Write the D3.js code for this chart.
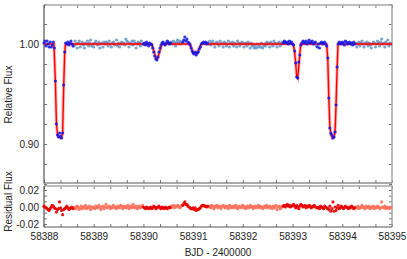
<!DOCTYPE html>
<html>
<head>
<meta charset="utf-8">
<script src="https://cdn.jsdelivr.net/npm/d3@7"></script>
<style>
  body { margin: 0; background: #fff; }
  svg { display: block; font-family: "Liberation Sans", Arial, Helvetica, sans-serif; }
</style>
</head>
<body>
<script>
'use strict';

// 30-minute cadence, first sample at BJD 2458388.0
const startBJD = 58388.0;
const samplesPerDay = 48;

// relative flux as (f - 1) in parts per thousand, one array per day
const fluxDay0 = [1, 3, -2, 3, 0, -3, 2, -3, -1, 2,
  -4, -37, -80, -91, -93, -89, -92, -94, -89, -41, -8, 1,
  0, 2, -1, 1, 3, 0, -2,
  -2, 3, 0, -4, 1, 3, -3, 0, 2, -1, -4, 1, 0, 3, -2, 1, 4, -2, 0];
const fluxDay1 = [-3, 1, 3, 0, -1, 2, -4, 0, 1, -3, 2, 0,
  2, 1, -2, 3, 0, -3, 1, 2, -1, 0, 4, -2,
  1, -3, 0, 2, 1, 1, -1, 5, 3, 2, -3, 1,
  0, 3, -1, 3, 1, -4, 0, 2, 1, -2, 3, 0];
const fluxDay2 = [0, 1, -1, 2, 0, -2, 1, 0,
  -1, -4, -8, -12, -15, -16, -13, -8, -4, -1,
  1, 2, 0, -1, 1, 3, 2, 0, 1,
  2, 0, 3, 1, -2, 2, 4, 1, 3, 0, 2,
  2, 4, 7, 3, 5, 2, 1, -1, -4, -7];
const fluxDay3 = [-9, -10, -8, -11, -9, -8, -5, -3, 0, 1, 2, 1, 2, 0, 1,
  0, 3, -1, 1, 3, 0, -3, 1, 2, 0, -2, 3, 1, 0, -3, 2, 1, -2, 0, 3,
  -3, 1, 0, 2, -2, 1, 0, -3, 3, 1, -2, 0, 2];
const fluxDay4 = [1, -3, 0, 1, -2, 2, 0, -4, 1, -2, -1, -4,
  -2, -4, 0, -3, -1, -3, 1, -4, -2, 0, -2, 2,
  0, 1, -3, 2, 0, -2, 3, 1, 0, -3, 1, 2, -2, 0, 2,
  1, 3, 2, 1, 2, 0, 3, 1, 2];
const fluxDay5 = [0, -1, -7, -19, -33, -34, -18, -11, -1, 1,
  3, 2, 1, 3, 0, 2, 4, 1, 2, 3, 0, 1, 2, -2,
  -3, 0, -4, 1, 2, 0, 1, 2, 0,
  -2, -14, -54, -84, -89, -91, -94, -93, -88, -61, -23, 0, 2,
  1, 0];
const fluxDay6 = [2, 1, -1, 3, 2, 0, 1, 2, 0, 1, -1, 2, 0,
  1, -3, 0, 2, -2, 1, 3, 0, -3, 1, 0, 2, -2, 1, -1, -4, 0, 2, 1, -3,
  0, 3, 1, -2, 2, 5, 0, 1, -3, 2, 0, 4, -2, 1, 0];

// residual flux in parts per thousand, one array per day
const residDay0 = [1, 0, -1, -2, -3, -4, -2, 0, 2, 1, -1, -2, -6, -3, -2,
  6, -1, -4, -9, -3, -2, -1, 1, -1, -3, -2, -1, 0, -2,
  -1, 0, -2, 1, 0, -3, -1, 1, -2, 0, -1, 2, -2, 0, -1, 1, -3, 0, -1];
const residDay1 = [0, -2, 1, -1, 0, 2, -1, -3, 0, 1, -2, 0, 3, -1, 0, 1,
  -2, 0, -1, 2, 0, -1, -2, 1, 0, -1, 2, 1, -2, 0, 1, -1, 0, 2, -2, 0,
  1, -1, 3, 0, -1, 1, -2, 0, 1, -1, 0, 2];
const residDay2 = [0, -1, -2, 0, -1, -2, -1, 0, -2, -1, 1, 0, -2, -1,
  0, 1, -1, -2, 0, -1, -2, 0, -1, -2, -1, 0, -1,
  1, 0, 2, -1, 1, 0, 2, 1, -1, 0, 2,
  2, 4, 6, 3, 3, 1, 0, -1, -2, -2];
const residDay3 = [-1, -3, -1, -4, -3, -3, -2, -1, 1, 2, 2, 1, 1, 0, 1,
  0, 1, -1, 2, 0, -2, 1, 0, 2, -1, 1, 0, -2, 1, 2, 0, -1, 1, 0, -2,
  2, 1, -1, 0, 1, -1, 2, 0, -2, 1, 0, -1, 1];
const residDay4 = [2, -1, 0, -2, 1, 0, -1, 2, 0, 1, -2, 0, 1, -1, 0, 2,
  -1, 1, 0, -2, 0, 1, -1, 2, 0, -1, 1, 0, -2, 1, -1, 0, 2, -3, 0, 1,
  -2, -1, 1,
  1, 2, 0, 2, 3, 1, 2, 0, 1];
const residDay5 = [2, 3, 1, -1, 2, 0, -2, 1, 3, 2, 0, 1, 2, -1, 1, 0,
  2, 1, -1, 0, 1, 2, 0,
  -1,
  -1, 0, -2, 1, 0, -1, -2, 1, 0, -1, -2, -3, 1, -5, -2, 6, -5, 0, -4,
  -1, 2, -2, -1, 1];
const residDay6 = [0, -2, -1, 1, 0, -1, -2, 0, -1, 1, 0, -2, -1,
  0, -1, 1, -2, 0, -1, 2, 0, -1, -2, 1, 0, -1, 1, -2, -1, 0, 1, -2, 0,
  -1, 1, 0, -2, -1, 6, 0, -1, 1, -2, 0, -1, -2, 0, -1];

// time windows fitted around each eclipse (deep blue / red points)
const fitWindows = [
  [58387.99, 58388.59],
  [58389.99, 58390.55],
  [58390.78, 58391.30],
  [58392.80, 58393.46],
  [58393.49, 58394.26]
];

// eclipse model, vertices of the red curve
const modelTimes = [58388.0,
  58388.200, 58388.229, 58388.250, 58388.271, 58388.300, 58388.330,
  58388.354, 58388.375, 58388.396, 58388.417, 58388.432,
  58390.17, 58390.21, 58390.25, 58390.27, 58390.29, 58390.33, 58390.37,
  58390.94, 58391.00, 58391.08, 58391.16,
  58393.01, 58393.04, 58393.062, 58393.083, 58393.104, 58393.125, 58393.146, 58393.165,
  58393.685, 58393.708, 58393.729, 58393.750, 58393.771, 58393.800,
  58393.830, 58393.854, 58393.875, 58393.896, 58393.915,
  58395.0];
const modelFlux = [1.000,
  1.000, 0.962, 0.921, 0.910, 0.907, 0.906,
  0.907, 0.911, 0.958, 0.991, 1.000,
  1.000, 0.993, 0.986, 0.985, 0.986, 0.993, 1.000,
  1.000, 0.991, 0.991, 1.000,
  1.000, 0.993, 0.981, 0.968, 0.966, 0.978, 0.990, 1.000,
  1.000, 0.985, 0.947, 0.917, 0.910, 0.906,
  0.907, 0.912, 0.940, 0.976, 1.000,
  1.000];

// axis labels
const xTickValues = [58388, 58389, 58390, 58391, 58392, 58393, 58394, 58395];
const fluxTickValues = [0.90, 1.00];
const residTickValues = [-0.02, 0.00, 0.02];

(function() {

  const width = 407, height = 259;
  const left = 44, right = 392;
  const topPanel = { y0: 5, y1: 183 };
  const resPanel = { y0: 186, y1: 227 };
  const fontSize = '10px';

  const colors = {
    oot: '#6096c8',
    inFit: '#1414e6',
    model: '#ff0000',
    resOut: '#ff6f5a',
    resIn: '#e60000',
    frameDark: '#555',
    frameLight: '#a8a8a8',
    text: '#222'
  };

  window.onload = function() {
    let svg = d3.select('body')
      .append('svg')
      .attr('width', width)
      .attr('height', height);

    // assemble the data rows
    let fluxAll = [].concat(fluxDay0, fluxDay1, fluxDay2, fluxDay3, fluxDay4, fluxDay5, fluxDay6);
    let residAll = [].concat(residDay0, residDay1, residDay2, residDay3, residDay4, residDay5, residDay6);
    let inFit = (t) => fitWindows.some((w) => t >= w[0] && t <= w[1]);
    let data = fluxAll.map((f, i) => {
      let t = startBJD + i / samplesPerDay;
      return { t: t, flux: 1 + f / 1000, resid: residAll[i] / 1000, fit: inFit(t) };
    });
    let model = modelTimes.map((t, i) => ({ t: t, flux: modelFlux[i] }));

    // scales
    let x = d3.scaleLinear().domain([58388, 58395]).range([left, right]);
    let yFlux = d3.scaleLinear().domain([0.861, 1.039]).range([topPanel.y1, topPanel.y0]);
    let yRes = d3.scaleLinear().domain([-0.0235, 0.0247]).range([resPanel.y1, resPanel.y0]);

    let minorX = d3.range(0, 22).map((k) => 58388 + k / 3);
    let minorFlux = d3.range(0, 10).map((k) => 0.86 + k * 0.02);
    let minorRes = d3.range(-3, 4).map((k) => k * 0.02 / 3);

    drawFrame(svg, x, yFlux, topPanel, minorX, minorFlux);
    drawFrame(svg, x, yRes, resPanel, minorX, minorRes);

    // ---- top panel: light curve ----
    let top = svg.append('g');
    top.selectAll('.oot')
      .data(data.filter((d) => !d.fit))
      .enter()
      .append('circle')
        .attr('cx', (d) => x(d.t))
        .attr('cy', (d) => yFlux(d.flux))
        .attr('r', 1.6)
        .attr('fill', colors.oot)
        .attr('fill-opacity', 0.85);

    let line = d3.line().x((d) => x(d.t)).y((d) => yFlux(d.flux));
    top.append('path')
      .datum(model)
      .attr('d', line)
      .attr('fill', 'none')
      .attr('stroke', colors.model)
      .attr('stroke-opacity', 0.3)
      .attr('stroke-width', 3.2);
    top.append('path')
      .datum(model)
      .attr('d', line)
      .attr('fill', 'none')
      .attr('stroke', colors.model)
      .attr('stroke-width', 1.4);

    top.selectAll('.fit')
      .data(data.filter((d) => d.fit))
      .enter()
      .append('circle')
        .attr('cx', (d) => x(d.t))
        .attr('cy', (d) => yFlux(d.flux))
        .attr('r', 1.6)
        .attr('fill', colors.inFit)
        .attr('fill-opacity', 0.85);

    // ---- bottom panel: residuals ----
    let res = svg.append('g');
    res.selectAll('circle')
      .data(data.filter((d) => !d.fit).concat(data.filter((d) => d.fit)))
      .enter()
      .append('circle')
        .attr('cx', (d) => x(d.t))
        .attr('cy', (d) => yRes(d.resid))
        .attr('r', 1.6)
        .attr('fill', (d) => d.fit ? colors.resIn : colors.resOut)
        .attr('fill-opacity', 0.9);

    // ---- tick labels ----
    let labelAxisX = d3.axisBottom(x)
      .tickValues(xTickValues)
      .tickSize(0)
      .tickPadding(6)
      .tickFormat(d3.format('d'));
    styleLabels(svg.append('g')
      .attr('transform', 'translate(0,' + resPanel.y1 + ')')
      .call(labelAxisX));

    let labelAxisFlux = d3.axisLeft(yFlux)
      .tickValues(fluxTickValues)
      .tickSize(0)
      .tickPadding(5)
      .tickFormat(d3.format('.2f'));
    styleLabels(svg.append('g')
      .attr('transform', 'translate(' + left + ',0)')
      .call(labelAxisFlux));

    let labelAxisRes = d3.axisLeft(yRes)
      .tickValues(residTickValues)
      .tickSize(0)
      .tickPadding(5)
      .tickFormat((d) => d3.format('.2f')(d).replace('−', '-'));
    styleLabels(svg.append('g')
      .attr('transform', 'translate(' + left + ',0)')
      .call(labelAxisRes));

    // ---- axis titles ----
    svg.append('text')
      .attr('x', (left + right) / 2)
      .attr('y', 256)
      .attr('text-anchor', 'middle')
      .attr('font-size', fontSize)
      .attr('fill', colors.text)
      .text('BJD - 2400000');

    svg.append('text')
      .attr('transform', 'translate(11.5,94.5)rotate(-90)')
      .attr('text-anchor', 'middle')
      .attr('font-size', fontSize)
      .attr('fill', colors.text)
      .text('Relative Flux');

    svg.append('text')
      .attr('transform', 'translate(11.5,201.5)rotate(-90)')
      .attr('text-anchor', 'middle')
      .attr('font-size', fontSize)
      .attr('fill', colors.text)
      .text('Residual Flux');
  }

  // panel border with inward ticks on all four sides
  function drawFrame(svg, x, y, panel, xTicks, yTicks) {
    let g = svg.append('g');
    let tick = (axis, size) => axis.tickSize(size).tickFormat('');

    let axes = [
      [tick(d3.axisBottom(x).tickValues(xTicks), -3), 'translate(0,' + panel.y1 + ')'],
      [tick(d3.axisTop(x).tickValues(xTicks), -3), 'translate(0,' + panel.y0 + ')'],
      [tick(d3.axisLeft(y).tickValues(yTicks), -3), 'translate(' + left + ',0)'],
      [tick(d3.axisRight(y).tickValues(yTicks), -3), 'translate(' + right + ',0)']
    ];
    axes.forEach((a) => {
      let ag = g.append('g').attr('transform', a[1]).call(a[0]);
      ag.select('.domain').remove();
      ag.selectAll('line').attr('stroke', '#777');
    });

    // light top/right edges, darker left/bottom edges
    g.append('path')
      .attr('d', 'M' + left + ',' + panel.y0 + 'H' + right + 'V' + panel.y1)
      .attr('fill', 'none')
      .attr('stroke', colors.frameLight)
      .attr('stroke-width', 1.5);
    g.append('path')
      .attr('d', 'M' + left + ',' + panel.y0 + 'V' + panel.y1 + 'H' + right)
      .attr('fill', 'none')
      .attr('stroke', colors.frameDark)
      .attr('stroke-width', 1.2);
  }

  function styleLabels(g) {
    g.select('.domain').remove();
    g.selectAll('text')
      .attr('font-size', fontSize)
      .attr('font-family', '"Liberation Sans", Arial, sans-serif')
      .attr('fill', colors.text);
  }

})();
</script>
</body>
</html>
